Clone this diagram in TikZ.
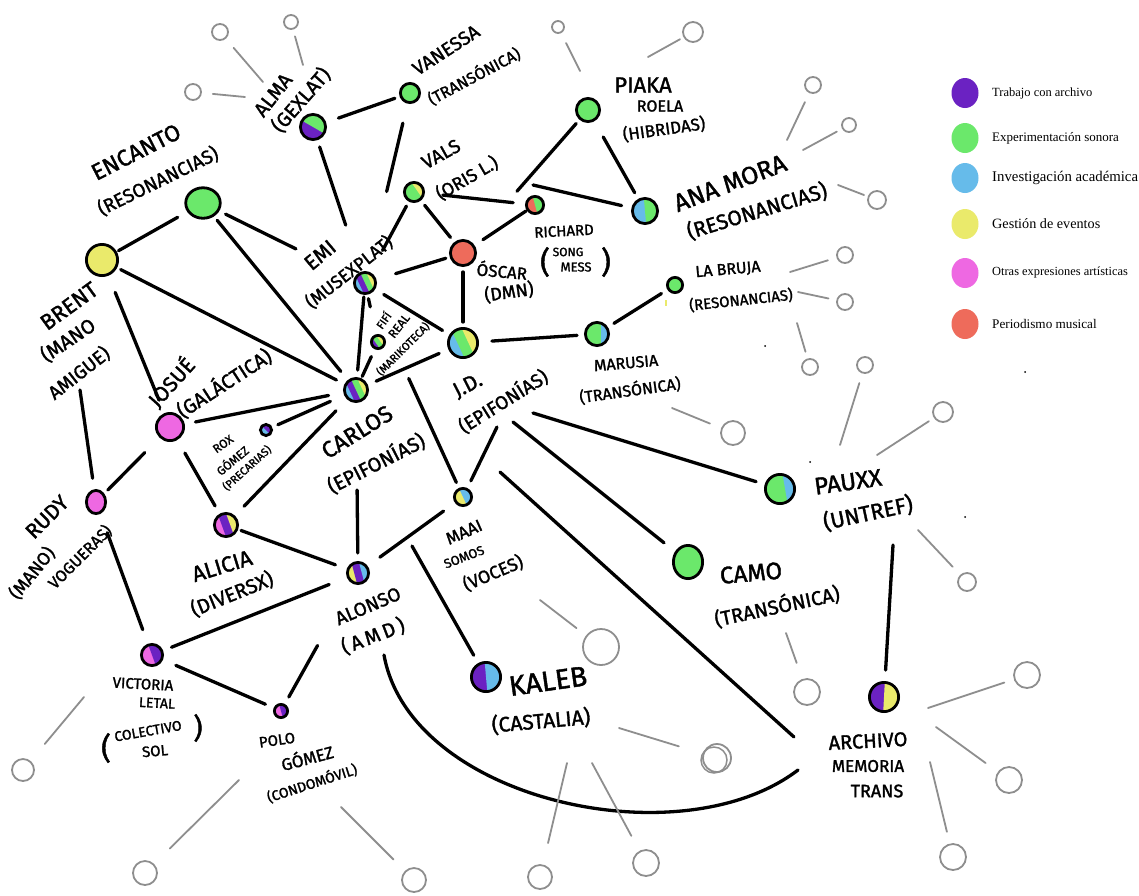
\documentclass[tikz,border=0pt]{standalone}
\usepackage{fontspec}
\usepackage{tikz}
\usetikzlibrary{shapes.geometric}

\newfontfamily\mano{Fira Sans}[FakeBold=1.5]
\newfontfamily\leyenda{Liberation Serif}
\newcommand{\hw}[1]{\fontsize{#1}{#1}\selectfont\mano}

\definecolor{violeta}{HTML}{6B22C2}
\definecolor{verde}{HTML}{6BE86B}
\definecolor{celeste}{HTML}{66BBEA}
\definecolor{amarillo}{HTML}{EAEA6B}
\definecolor{rosa}{HTML}{EE68E2}
\definecolor{rojo}{HTML}{EE6B5B}
\definecolor{gris}{HTML}{8E8E8E}

% franjas de colores dentro de un circulo: centro, radio, angulo, cantidad, colores
\newcommand{\franjas}[5]{%
  \begin{scope}[shift={#1}, rotate=#3]
    \clip (0,0) circle (#2pt);
    \foreach \col [count=\n] in {#5}
      \fill[\col] ({-#2+(\n-1)*2*#2/#4},-#2) rectangle ({-#2+\n*2*#2/#4+0.6},#2);
  \end{scope}}

\tikzset{
  punto/.style={circle, draw=black, line width=2.8pt, inner sep=0pt},
  enlace/.style={line width=3.3pt, line cap=round},
  rama/.style={draw=gris, line width=1.8pt, line cap=round},
  hoja/.style={circle, draw=gris, line width=1.8pt, inner sep=0pt},
  mano/.style={inner sep=0pt},
  marca/.style={ellipse, minimum width=27pt, minimum height=30pt, inner sep=0pt},
}

\begin{document}
\begin{tikzpicture}[x=1pt, y=-1pt]
\fill[white] (0,0) rectangle (1139,895);
\useasboundingbox (0,0) rectangle (1139,895);

% nodos
\franjas{(313,127)}{13}{60}{2}{violeta,verde}
\node[punto, minimum size=25.2pt] (alma) at (313,127) {};
\node[punto, minimum size=19.2pt, fill=verde] (vanessa) at (410,93) {};
\node[punto, minimum size=23.2pt, fill=verde] (piaka) at (588,110) {};
\franjas{(645,211)}{13}{5}{2}{celeste,verde}
\node[punto, minimum size=25.2pt] (anamora) at (645,211) {};
\franjas{(414,192)}{10}{35}{3}{verde,verde,amarillo}
\node[punto, minimum size=19.2pt] (vals) at (414,192) {};
\franjas{(535,205)}{9}{15}{2}{rojo,verde}
\node[punto, minimum size=17.2pt] (richard) at (535,205) {};
\node[punto, minimum size=25.2pt, fill=rojo] (oscar) at (463,253) {};
\franjas{(365,283)}{11}{25}{4}{celeste,violeta,verde,amarillo}
\node[punto, minimum size=21.2pt] (emi) at (365,283) {};
\franjas{(378,342)}{7}{35}{3}{violeta,verde,amarillo}
\node[punto, minimum size=13.2pt] (fifi) at (378,342) {};
\franjas{(463,343)}{15}{25}{3}{celeste,verde,amarillo}
\node[punto, minimum size=29.2pt] (jd) at (463,343) {};
\franjas{(356,390)}{12}{25}{4}{celeste,violeta,verde,amarillo}
\node[punto, minimum size=23.2pt] (carlos) at (356,390) {};
\franjas{(597,334)}{12}{0}{3}{verde,verde,celeste}
\node[punto, minimum size=23.2pt] (marusia) at (597,334) {};
\node[punto, minimum size=15.2pt, fill=verde] (labruja) at (675,285) {};
\node[punto, ellipse, minimum width=34.5pt, minimum height=30.5pt, fill=verde] (encanto) at (203,203) {};
\node[punto, minimum size=31.2pt, fill=amarillo] (brent) at (102,260) {};
\node[punto, minimum size=27.2pt, fill=rosa] (josue) at (170,427) {};
\franjas{(266,430)}{6}{45}{2}{celeste,violeta}
\node[punto, minimum size=11.2pt] (rox) at (266,430) {};
\node[punto, ellipse, minimum width=19.2pt, minimum height=23.2pt, fill=rosa] (rudy) at (96,502) {};
\franjas{(226,525)}{12}{20}{3}{rosa,violeta,amarillo}
\node[punto, minimum size=23.2pt] (alicia) at (226,525) {};
\franjas{(463,497)}{9}{25}{2}{amarillo,celeste}
\node[punto, minimum size=17.2pt] (maai) at (463,497) {};
\franjas{(358,573)}{11}{15}{3}{amarillo,violeta,celeste}
\node[punto, minimum size=21.2pt] (alonso) at (358,573) {};
\franjas{(152,655)}{11}{20}{2}{rosa,violeta}
\node[punto, minimum size=21.2pt] (victoria) at (152,655) {};
\franjas{(281,711)}{7}{15}{2}{rosa,violeta}
\node[punto, minimum size=13.2pt] (polo) at (281,711) {};
\franjas{(486,677)}{15}{5}{2}{violeta,celeste}
\node[punto, minimum size=29.2pt] (kaleb) at (486,677) {};
\node[punto, ellipse, minimum width=29.2pt, minimum height=33.2pt, fill=verde] (camo) at (688,562) {};
\franjas{(780,489)}{15}{10}{3}{verde,verde,celeste}
\node[punto, minimum size=29.2pt] (pauxx) at (780,489) {};
\franjas{(884,697)}{15}{-3}{2}{violeta,amarillo}
\node[punto, minimum size=29.2pt] (archivo) at (884,697) {};

% enlaces
\foreach \a/\b/\s/\e in {alma/vanessa/13/5, alma/emi/7/49, vanessa/emi/20/82,
  encanto/brent/11/2, encanto/emi/7/65, encanto/carlos/5/11, brent/carlos/4/9,
  brent/josue/18/14, josue/carlos/11/15, josue/rudy/21/5,
  josue/alicia/15/9, rox/carlos/6/15, alicia/carlos/13/16, alicia/alonso/3/12,
  rudy/victoria/20/15, victoria/alonso/9/19, victoria/polo/14/9, polo/alonso/8/71,
  carlos/alonso/87/8, alonso/maai/15/14, emi/maai/93/6, jd/marusia/13/7,
  marusia/labruja/7/7, carlos/jd/9/10, emi/jd/10/8, emi/carlos/2/7, emi/fifi/4/28,
  fifi/carlos/8/2, emi/oscar/20/4, vals/emi/5/25, vals/oscar/6/6, vals/richard/18/12,
  oscar/richard/10/1, piaka/oscar/5/68, piaka/anamora/18/7, oscar/jd/5/5}
  \draw[enlace, shorten <=\s pt, shorten >=\e pt] (\a) -- (\b);

\coordinate (brentRudy) at (80,390);
\coordinate (jdMaai) at (497,427);
\coordinate (jdPauxx) at (533,413);
\coordinate (jdCamo) at (513,422);
\coordinate (jdArch) at (500,472);
\coordinate (archJd) at (794,737);
\coordinate (carlosKaleb) at (412,546);
\coordinate (alonsoArch) at (384,655);
\coordinate (archAlonso) at (798,770);
\coordinate (pauxxArch) at (893,545);
\coordinate (richardAna) at (533,185);
\draw[enlace, shorten >=11pt] (brentRudy) -- (rudy);
\draw[enlace, shorten >=8pt] (jdMaai) -- (maai);
\draw[enlace, shorten >=9pt] (jdPauxx) -- (pauxx);
\draw[enlace, shorten >=14pt] (jdCamo) -- (camo);
\draw[enlace] (jdArch) -- (archJd);
\draw[enlace, shorten >=9pt] (carlosKaleb) -- (kaleb);
\draw[enlace] (alonsoArch) .. controls (410,800) and (680,860) .. (archAlonso);
\draw[enlace, shorten >=11pt] (pauxxArch) -- (archivo);
\draw[enlace, shorten >=10pt] (richardAna) -- (anamora);

% hojas grises
\foreach \n/\x/\y/\d/\u/\v/\g in {1/193/92/16/245/97/11, 2/220/32/16/263/82/12,
  3/291/22/14/303/65/7, 4/558/27/12/580/71/11, 5/693/32/20/648/57/4,
  6/813/85/16/787/140/10, 7/849/125/14/803/150/6, 8/877/200/18/838/185/4,
  9/845/255/16/790/272/9, 10/845/302/16/798/292/8, 11/810/367/16/797/323/7,
  12/865/365/16/840/445/10, 13/733/433/24/672/408/12, 14/943/412/20/877/455/6,
  15/967/582/18/918/530/11, 16/23/770/22/84/697/22, 17/145/873/24/239/780/22,
  18/414/880/24/341/807/16, 19/601/647/36/540/600/12, 20/717/758/28/619/728/25,
  21/807/692/26/786/633/17, 22/1027/675/26/928/708/10, 23/1009/780/26/936/727/15,
  24/953/857/26/930/762/12, 25/540/877/24/567/763/22, 26/646/863/26/592/763/17}
{
  \node[hoja, minimum size=\d pt] (h\n) at (\x,\y) {};
  \coordinate (r\n) at (\u,\v);
  \draw[rama, shorten >=\g pt] (r\n) -- (h\n);
}
\draw[gris, line width=1.5pt] (714,760) circle (13pt);

% puntitos
\fill (1025,372) circle (1pt);
\fill (965,517) circle (1pt);
\fill (810,462) circle (1pt);
\fill (765,346) circle (1pt);
\fill[amarillo] (665,300) rectangle (667,306);

% textos
\node[mano, font=\hw{23}, rotate=27] (encantoA) at (136,152) {ENCANTO};
\node[mano, font=\hw{19}, rotate=26] (encantoB) at (158,181) {(RESONANCIAS)};
\node[mano, font=\hw{22}, rotate=36] (brentA) at (69,306) {BRENT};
\node[mano, font=\hw{20}, rotate=34] (brentB) at (68,340) {(MANO};
\node[mano, font=\hw{19}, rotate=38] (brentC) at (79,373) {AMIGUE)};
\node[mano, font=\hw{20}, rotate=52] (almaA) at (273,95) {ALMA};
\node[mano, font=\hw{20}, rotate=49] (almaB) at (301,100) {(GEXLAT)};
\node[mano, font=\hw{19}, rotate=33] (vanessaA) at (446,50) {VANESSA};
\node[mano, font=\hw{16}, rotate=28] (vanessaB) at (474,76) {(TRANSÓNICA)};
\node[mano, font=\hw{22}] (piakaA) at (643,85) {PIAKA};
\node[mano, font=\hw{16}] (piakaB) at (660,106) {ROELA};
\node[mano, font=\hw{17}, rotate=8] (piakaC) at (664,129) {(HIBRIDAS)};
\node[mano, font=\hw{19}, rotate=29] (valsA) at (441,154) {VALS};
\node[mano, font=\hw{18}, rotate=30] (valsB) at (467,178) {(ORIS L.)};
\node[mano, font=\hw{15}, rotate=3] (richardA) at (564,231) {RICHARD};
\node[mano, font=\hw{12}] (richardB) at (568,252) {SONG};
\node[mano, font=\hw{13}] (richardC) at (576,267) {MESS};
\node[mano, font=\hw{30}] (richardD) at (545,262) {(};
\node[mano, font=\hw{30}] (richardE) at (606,262) {)};
\node[mano, font=\hw{17}, rotate=-5] (oscarA) at (502,270) {ÓSCAR};
\node[mano, font=\hw{18}, rotate=8] (oscarB) at (509,292) {(DMN)};
\node[mano, font=\hw{21}, rotate=40] (emiA) at (320,255) {EMI};
\node[mano, font=\hw{18}, rotate=38] (emiB) at (349,272) {(MUSEXPLAT)};
\node[mano, font=\hw{11}, rotate=55] (fifiA) at (383,320) {FIFÍ};
\node[mano, font=\hw{12}, rotate=52] (fifiB) at (399,326) {REAL};
\node[mano, font=\hw{11}, rotate=45] (fifiC) at (403,349) {(MARIKOTECA)};
\node[mano, font=\hw{21}, rotate=27] (jdA) at (468,386) {J.D.};
\node[mano, font=\hw{19}, rotate=32] (jdB) at (503,401) {(EPIFONÍAS)};
\node[mano, font=\hw{23}, rotate=32] (carlosA) at (357,432) {CARLOS};
\node[mano, font=\hw{20}, rotate=27] (carlosB) at (376,463) {(EPIFONÍAS)};
\node[mano, font=\hw{16}, rotate=5] (marusiaA) at (626,363) {MARUSIA};
\node[mano, font=\hw{16}, rotate=8] (marusiaB) at (630,390) {(TRANSÓNICA)};
\node[mano, font=\hw{16}, rotate=5] (labrujaA) at (728,270) {LA BRUJA};
\node[mano, font=\hw{15}, rotate=6] (labrujaB) at (741,300) {(RESONANCIAS)};
\node[mano, font=\hw{25}, rotate=21] (anamoraA) at (730,183) {ANA MORA};
\node[mano, font=\hw{21}, rotate=17] (anamoraB) at (757,211) {(RESONANCIAS)};
\node[mano, font=\hw{21}, rotate=48] (josueA) at (171,382) {JOSUÉ};
\node[mano, font=\hw{20}, rotate=33] (josueB) at (224,383) {(GALÁCTICA)};
\node[mano, font=\hw{12}, rotate=35] (roxA) at (223,444) {ROX};
\node[mano, font=\hw{12}, rotate=40] (roxB) at (232,460) {GÓMEZ};
\node[mano, font=\hw{11}, rotate=42] (roxC) at (247,468) {(PRECARIAS)};
\node[mano, font=\hw{21}, rotate=45] (rudyA) at (47,517) {RUDY};
\node[mano, font=\hw{18}, rotate=51] (rudyB) at (32,573) {(MANO)};
\node[mano, font=\hw{16}, rotate=45] (rudyC) at (80,557) {VOGUERAS)};
\node[mano, font=\hw{22}, rotate=17] (aliciaA) at (222,566) {ALICIA};
\node[mano, font=\hw{20}, rotate=22] (aliciaB) at (232,594) {(DIVERSX)};
\node[mano, font=\hw{17}, rotate=24] (maaiA) at (464,532) {MAAI};
\node[mano, font=\hw{13}, rotate=21] (maaiB) at (464,557) {SOMOS};
\node[mano, font=\hw{18}, rotate=23] (maaiC) at (493,573) {(VOCES)};
\node[mano, font=\hw{19}, rotate=23] (alonsoA) at (368,606) {ALONSO};
\node[mano, font=\hw{20}, rotate=21] (alonsoB) at (373,636) {(\,A\,M\,D\,)};
\node[mano, font=\hw{15}, rotate=-3] (victoriaA) at (143,684) {VICTORIA};
\node[mano, font=\hw{14}, rotate=-3] (victoriaB) at (157,703) {LETAL};
\node[mano, font=\hw{14}, rotate=10] (victoriaC) at (148,731) {COLECTIVO};
\node[mano, font=\hw{15}, rotate=5] (victoriaD) at (155,751) {SOL};
\node[mano, font=\hw{30}] (victoriaE) at (106,748) {(};
\node[mano, font=\hw{28}] (victoriaF) at (198,728) {)};
\node[mano, font=\hw{15}, rotate=8] (poloA) at (277,740) {POLO};
\node[mano, font=\hw{17}, rotate=15] (poloB) at (307,757) {GÓMEZ};
\node[mano, font=\hw{14}, rotate=18] (poloC) at (312,783) {(CONDOMÓVIL)};
\node[mano, font=\hw{28}, rotate=8] (kalebA) at (548,681) {KALEB};
\node[mano, font=\hw{21}, rotate=5] (kalebB) at (541,721) {(CASTALIA)};
\node[mano, font=\hw{24}, rotate=5] (camoA) at (751,573) {CAMO};
\node[mano, font=\hw{20}, rotate=12] (camoB) at (777,606) {(TRANSÓNICA)};
\node[mano, font=\hw{24}, rotate=8] (pauxxA) at (848,482) {PAUXX};
\node[mano, font=\hw{22}, rotate=12] (pauxxB) at (868,513) {(UNTREF)};
\node[mano, font=\hw{20}, rotate=3] (archivoA) at (868,741) {ARCHIVO};
\node[mano, font=\hw{17}] (archivoB) at (868,766) {MEMORIA};
\node[mano, font=\hw{18}] (archivoC) at (877,791) {TRANS};

% leyenda
\foreach \col/\txt/\y/\s in {violeta/Trabajo con archivo/93/12.5,
  verde/Experimentación sonora/138/13, celeste/Investigación académica/178/14.8,
  amarillo/Gestión de eventos/224/14.2, rosa/Otras expresiones artísticas/273/12.4,
  rojo/Periodismo musical/324/13.2}
{
  \node[marca, fill=\col] (m\col) at (965,\y) {};
  \node[anchor=west, inner sep=0pt, font=\leyenda\fontsize{\s}{\s}\selectfont] (t\col) at (992,\y) {\txt};
}
\end{tikzpicture}
\end{document}
